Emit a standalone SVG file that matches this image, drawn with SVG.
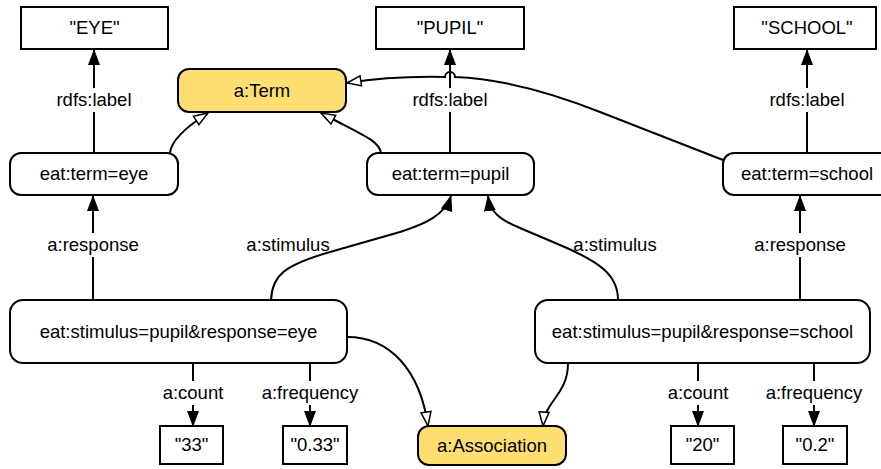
<svg xmlns="http://www.w3.org/2000/svg" width="881" height="469" viewBox="0 0 881 469">
<style>
.n{fill:#fff;stroke:#000;stroke-width:2}
.y{fill:#FFDF71;stroke:#000;stroke-width:2}
text{font-family:"Liberation Sans",Arial,sans-serif;font-size:18.5px;fill:#000;text-anchor:middle}
.e{fill:none;stroke:#000;stroke-width:2}
.f{marker-end:url(#fa)}
.h{marker-end:url(#ha)}
.bg{fill:#fff}
</style>
<defs>
<marker id="fa" markerUnits="userSpaceOnUse" markerWidth="16" markerHeight="12" refX="15" refY="6" orient="auto"><path d="M0,0 L16,6 L0,12 z" fill="#000"/></marker>
<marker id="ha" markerUnits="userSpaceOnUse" markerWidth="18" markerHeight="14" refX="15" refY="7" orient="auto"><path d="M1,2 L15,7 L1,12 z" fill="#fff" stroke="#000" stroke-width="1.5"/></marker>
</defs>
<g id="connectors">
<path class="e f" d="M94,153 L94,50"/>
<path class="e f" d="M450,153 L450,50"/>
<path class="e f" d="M807,153 L807,50"/>
<path class="e h" d="M170,153 C171,141 186,127 208,113"/>
<path class="e h" d="M381,153 C379,140 360,134 321,113"/>
<path class="e h" d="M723,160 L600,112 C555,94 505,79 455,77 A5,5 0 0 0 445,77 C400,76 372,79 347,83"/>
<path class="e f" d="M93,300 L93,196"/>
<path class="e f" d="M271,300 C272,275 285,265 330,252 L400,232 C425,224 445,215 451,196"/>
<path class="e f" d="M618,300 C618,275 600,262 560,245 L520,228 C500,220 490,212 488,196"/>
<path class="e f" d="M800,300 L800,196"/>
<path class="e h" d="M347,337 C390,337 420,370 428,426"/>
<path class="e h" d="M568,363 C568,395 545,400 543,426"/>
<path class="e f" d="M193,363 L193,426"/>
<path class="e f" d="M310,363 L310,426"/>
<path class="e f" d="M698,363 L698,426"/>
<path class="e f" d="M814,363 L814,426"/>
<rect class="bg" x="54" y="88" width="80" height="24"/>
<text x="94" y="105.5">rdfs:label</text>
<rect class="bg" x="410" y="88" width="80" height="24"/>
<text x="450" y="105.5">rdfs:label</text>
<rect class="bg" x="767" y="88" width="80" height="24"/>
<text x="807" y="105.5">rdfs:label</text>
<rect class="bg" x="45" y="233" width="96" height="24"/>
<text x="93" y="251">a:response</text>
<rect class="bg" x="752" y="233" width="96" height="24"/>
<text x="800" y="251">a:response</text>
<text x="288" y="251">a:stimulus</text>
<text x="615" y="251">a:stimulus</text>
<rect class="bg" x="160" y="381" width="66" height="24"/>
<text x="193" y="399">a:count</text>
<rect class="bg" x="261" y="381" width="98" height="24"/>
<text x="310" y="399">a:frequency</text>
<rect class="bg" x="665" y="381" width="66" height="24"/>
<text x="698" y="399">a:count</text>
<rect class="bg" x="765" y="381" width="98" height="24"/>
<text x="814" y="399">a:frequency</text>
</g>
<g id="lit-eye"><rect class="n" x="21" y="7" width="147" height="42"/><text x="94.5" y="34">"EYE"</text></g>
<g id="lit-pupil"><rect class="n" x="376" y="7" width="148" height="42"/><text x="450" y="34">"PUPIL"</text></g>
<g id="lit-school"><rect class="n" x="734" y="7" width="142" height="42"/><text x="807" y="34">"SCHOOL"</text></g>
<g id="term"><rect class="y" x="178" y="69" width="168" height="43" rx="11"/><text x="262" y="96.5">a:Term</text></g>
<g id="term-eye"><rect class="n" x="10" y="153" width="168" height="42" rx="11"/><text x="94" y="180">eat:term=eye</text></g>
<g id="term-pupil"><rect class="n" x="367" y="153" width="167" height="42" rx="11"/><text x="450.5" y="180">eat:term=pupil</text></g>
<g id="term-school"><rect class="n" x="723" y="153" width="168" height="42" rx="11"/><text x="807" y="180">eat:term=school</text></g>
<g id="assoc-eye"><rect class="n" x="10" y="300" width="337" height="63" rx="13"/><text x="178.5" y="337.5">eat:stimulus=pupil&amp;response=eye</text></g>
<g id="assoc-school"><rect class="n" x="535" y="300" width="335" height="63" rx="13"/><text x="702.5" y="337.5">eat:stimulus=pupil&amp;response=school</text></g>
<g id="lit-33"><rect class="n" x="160" y="426" width="63" height="38"/><text x="191.5" y="451">"33"</text></g>
<g id="lit-033"><rect class="n" x="283" y="426" width="64" height="38"/><text x="315" y="451">"0.33"</text></g>
<g id="association"><rect class="y" x="418" y="426" width="148" height="39" rx="11"/><text x="492" y="451.5">a:Association</text></g>
<g id="lit-20"><rect class="n" x="671" y="426" width="63" height="38"/><text x="702.5" y="451">"20"</text></g>
<g id="lit-02"><rect class="n" x="783" y="426" width="64" height="38"/><text x="815" y="451">"0.2"</text></g>
</svg>
